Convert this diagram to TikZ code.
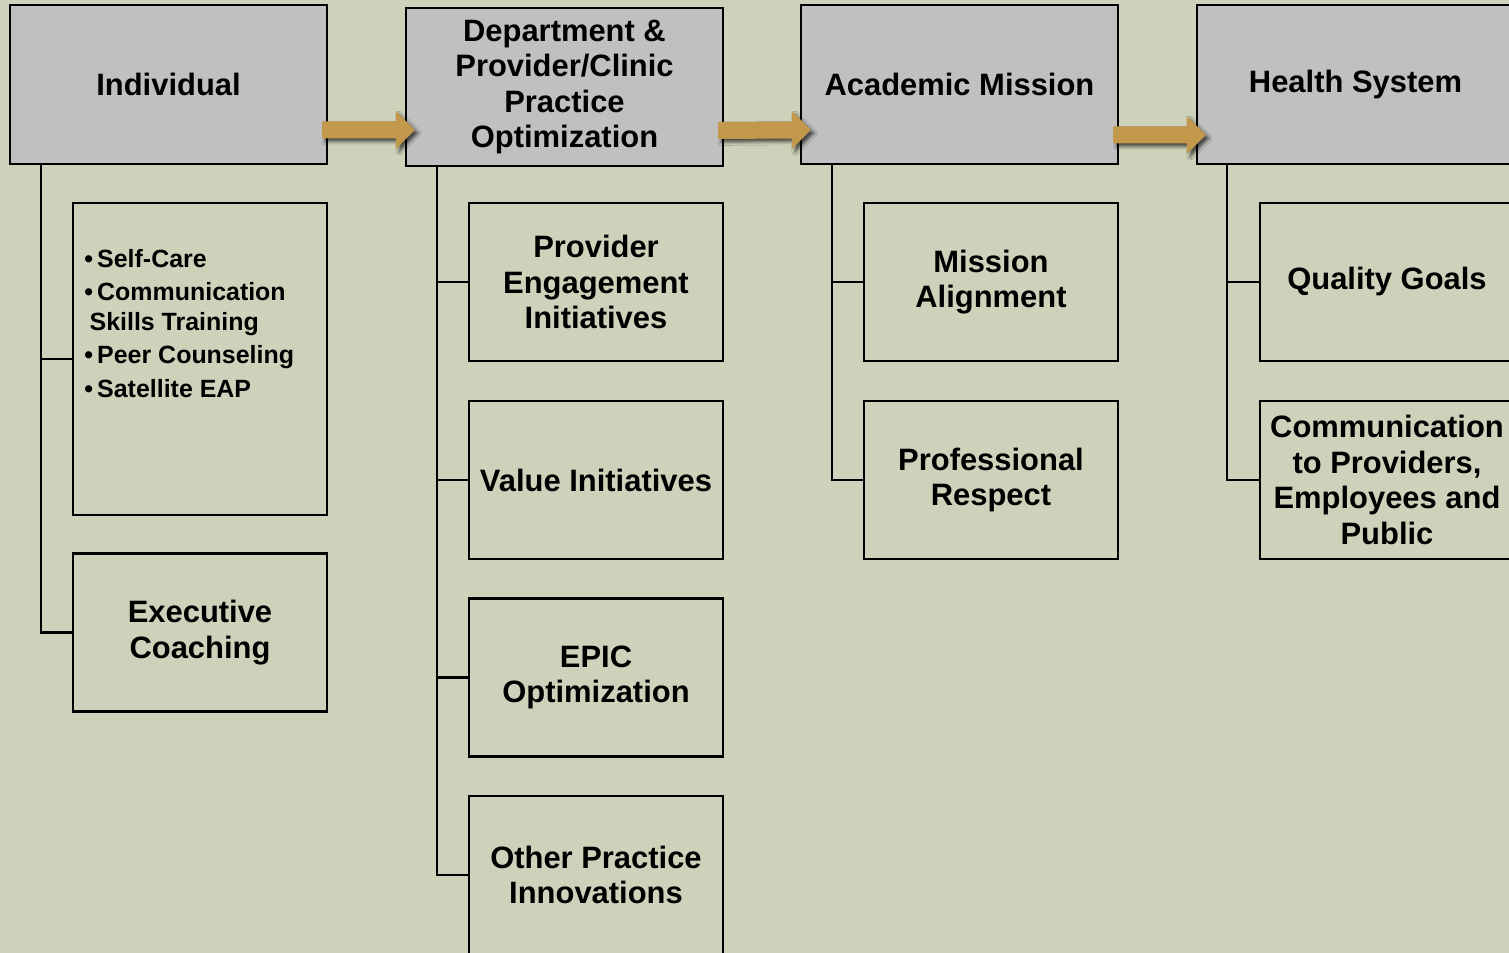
\documentclass[tikz,border=0pt]{standalone}
\usepackage{fontspec}
\setmainfont{Liberation Sans}
\usepackage{xcolor}
\usetikzlibrary{positioning,calc,shadows.blur}

\definecolor{sagebg}{RGB}{206,210,186}
\definecolor{headgrey}{RGB}{192,192,192}
\definecolor{arrowgold}{RGB}{194,152,76}

\tikzset{
  head/.style={draw, line width=1.3pt, fill=headgrey, minimum width=6.34cm, minimum height=3.18cm,
    align=center, font=\fontsize{17.6}{20.2}\selectfont\bfseries},
  subbox/.style={draw, line width=1.3pt, minimum width=5.08cm, minimum height=3.16cm,
    align=center, font=\fontsize{17.6}{20.2}\selectfont\bfseries},
  link/.style={line width=1.4pt},
  flow/.style={fill=arrowgold, blur shadow={shadow xshift=1.8pt, shadow yshift=-1.8pt,
    shadow blur radius=1.8pt, shadow opacity=65}}
}

% block arrow from #1 (tail) to #2 (tip)
\newcommand{\flowarrow}[2]{%
  \fill[flow] ($(#1)+(0,-8.5)$) -- ($(#2)+(-19,-8.5)$) -- ($(#2)+(-19,-19)$) -- (#2)
    -- ($(#2)+(-19,19)$) -- ($(#2)+(-19,8.5)$) -- ($(#1)+(0,8.5)$) -- cycle;}

\begin{document}
\begin{tikzpicture}[x=0.02cm, y=-0.02cm]
    % Page and background
    \fill[sagebg] (0,0) rectangle (1509,953);
    \useasboundingbox (0,0) rectangle (1509,953);
    \clip (0,0) rectangle (1509,953);

    % Top level
    \node[head] (ind) at (168.5,84.5) {Individual};
    \node[head, minimum height=3.16cm] (dept) at (564.5,87) {Department \&\\Provider/Clinic\\Practice\\Optimization};
    \node[head] (acad) at (959.5,84.5) {Academic Mission};
    \node[head] (hs) at (1355.5,84.5) {Health System};

    % Individual
    \node[subbox, minimum height=6.24cm] (indcare) at (200,359) {};
    \node[anchor=north west, inner sep=0pt, align=left, font=\fontsize{14.2}{16.6}\selectfont\bfseries]
      (indlist) at (84,249) {\textbullet\,Self-Care\\[2.5pt]
      \textbullet\,Communication\\
      \hspace{3pt}Skills Training\\[2.5pt]
      \textbullet\,Peer Counseling\\[2.5pt]
      \textbullet\,Satellite EAP};
    \node[subbox] (indcoach) at (200,632.5) {Executive\\Coaching};

    % Department
    \node[subbox] (deptprov) at (596,282) {Provider\\Engagement\\Initiatives};
    \node[subbox] (deptval) at (596,480) {Value Initiatives};
    \node[subbox] (deptepic) at (596,677.5) {EPIC\\Optimization};
    \node[subbox] (deptother) at (596,875) {Other Practice\\Innovations};

    % Academic
    \node[subbox] (acadalign) at (991,282) {Mission\\Alignment};
    \node[subbox] (acadresp) at (991,480) {Professional\\Respect};

    % Health system
    \node[subbox] (hsgoals) at (1387,282) {Quality Goals};
    \node[subbox] (hscomm) at (1387,480) {Communication\\to Providers,\\Employees and\\Public};

    % Tree lines
    \coordinate (indtrunk) at ($(ind.south west)+(32,0)$);
    \coordinate (depttrunk) at ($(dept.south west)+(32,0)$);
    \coordinate (acadtrunk) at ($(acad.south west)+(32,0)$);
    \coordinate (hstrunk) at ($(hs.south west)+(31,0)$);
    \draw[link] (indtrunk) |- (indcare.west) (indtrunk) |- (indcoach.west);
    \draw[link] (depttrunk) |- (deptprov.west) (depttrunk) |- (deptval.west)
      (depttrunk) |- (deptepic.west) (depttrunk) |- (deptother.west);
    \draw[link] (acadtrunk) |- (acadalign.west) (acadtrunk) |- (acadresp.west);
    \draw[link] (hstrunk) |- (hsgoals.west) (hstrunk) |- (hscomm.west);

    % Flow arrows
    \coordinate (a1s) at ($(ind.east)+(-6,45.5)$);
    \coordinate (a1t) at ($(dept.west)+(10,43)$);
    \coordinate (a2s) at ($(dept.east)+(-6,43.5)$);
    \coordinate (a2t) at ($(acad.west)+(11,45.5)$);
    \coordinate (a3s) at ($(acad.east)+(-6,50.5)$);
    \coordinate (a3t) at ($(hs.west)+(10,50.5)$);
    \flowarrow{a1s}{a1t}
    \flowarrow{a2s}{a2t}
    \flowarrow{a3s}{a3t}
\end{tikzpicture}
\end{document}
